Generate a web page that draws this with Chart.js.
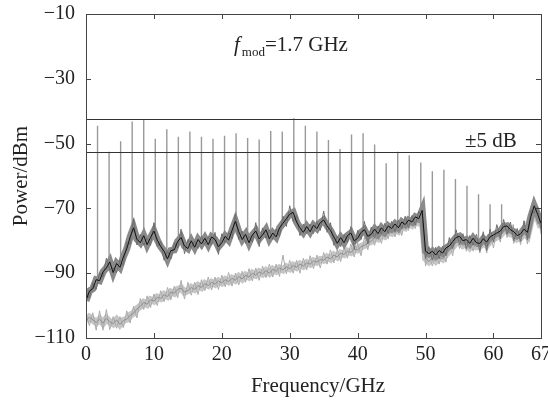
<!DOCTYPE html>
<html><head><meta charset="utf-8">
<script src="https://cdn.jsdelivr.net/npm/chart.js@4.4.1/dist/chart.umd.min.js"></script>
<style>html,body{margin:0;padding:0;background:#fff}#wrap{width:548px;height:401px}</style>
</head><body><div id="wrap"><canvas id="c" width="548" height="401"></canvas></div>
<script>
const freq = [0,0.5,1,1.5,2,2.5,3,3.5,4,4.5,5,5.5,6,6.5,7,7.5,8,8.5,9,9.5,10,10.5,11,11.5,12,12.5,13,13.5,14,14.5,15,15.5,16,16.5,17,17.5,18,18.5,19,19.5,20,20.5,21,21.5,22,22.5,23,23.5,24,24.5,25,25.5,26,26.5,27,27.5,28,28.5,29,29.5,30,30.5,31,31.5,32,32.5,33,33.5,34,34.5,35,35.5,36,36.5,37,37.5,38,38.5,39,39.5,40,40.5,41,41.5,42,42.5,43,43.5,44,44.5,45,45.5,46,46.5,47,47.5,48,48.5,49,49.5,50,50.5,51,51.5,52,52.5,53,53.5,54,54.5,55,55.5,56,56.5,57,57.5,58,58.5,59,59.5,60,60.5,61,61.5,62,62.5,63,63.5,64,64.5,65,65.5,66,66.5,67];
// modulated trace (dark): averaged core and raw noisy trace
const upperTrace = [-98.5,-95.5,-94.8,-92.0,-92.3,-89.6,-88.4,-86.5,-89.8,-87.0,-88.2,-85.0,-82.5,-78.8,-76.0,-79.5,-80.6,-78.4,-81.2,-79.0,-77.0,-79.8,-81.8,-83.2,-85.6,-83.0,-82.8,-80.2,-79.0,-81.6,-82.4,-80.0,-82.0,-79.6,-81.0,-79.2,-81.2,-78.8,-79.6,-81.8,-80.6,-78.6,-79.8,-76.8,-74.0,-77.2,-79.6,-78.0,-80.6,-78.2,-77.0,-79.4,-78.2,-76.6,-79.4,-77.6,-78.8,-76.0,-74.6,-73.2,-71.8,-71.2,-74.2,-76.0,-77.4,-75.6,-77.2,-75.2,-76.2,-74.4,-73.6,-75.4,-76.8,-78.8,-80.8,-79.0,-80.6,-78.4,-77.6,-80.0,-79.2,-77.4,-76.6,-78.6,-78.0,-76.4,-77.8,-76.0,-77.2,-75.4,-76.2,-74.8,-76.0,-74.2,-75.0,-73.6,-74.2,-72.6,-73.2,-70.6,-83.2,-84.0,-83.2,-84.4,-83.0,-83.8,-82.2,-81.6,-80.2,-79.0,-78.6,-80.0,-79.6,-80.8,-79.2,-80.6,-80.8,-79.4,-80.4,-78.8,-78.2,-77.6,-77.0,-75.6,-75.4,-76.6,-77.2,-78.4,-77.8,-76.4,-77.4,-72.6,-69.2,-71.8,-74.6];
const upperNoisy = [-95.9,-97.7,-93.0,-95.0,-89.9,-91.2,-85.4,-88.9,-88.4,-89.8,-86.0,-87.6,-80.5,-81.0,-73.2,-81.3,-78.0,-81.4,-79.2,-81.4,-74.4,-81.8,-80.2,-86.0,-83.2,-85.6,-80.6,-82.2,-76.4,-84.0,-79.6,-82.2,-80.0,-82.4,-78.6,-81.2,-78.6,-81.4,-77.4,-84.2,-77.8,-80.6,-77.4,-79.4,-71.8,-79.6,-77.0,-80.8,-78.6,-80.4,-74.4,-81.8,-76.0,-79.2,-76.6,-79.6,-76.4,-78.6,-72.4,-75.6,-69.2,-74.0,-72.2,-78.4,-74.8,-77.8,-74.8,-77.8,-74.0,-76.8,-70.8,-77.4,-74.4,-81.4,-78.6,-81.8,-78.0,-80.6,-75.6,-82.6,-76.8,-79.6,-74.0,-81.0,-75.8,-79.2,-75.4,-78.0,-74.6,-77.8,-74.0,-77.4,-73.6,-76.4,-72.4,-76.0,-72.2,-75.2,-71.0,-72.2,-85.6,-81.8,-86.0,-82.0,-85.6,-81.6,-84.6,-79.0,-82.4,-76.6,-81.2,-77.8,-82.4,-78.4,-81.4,-78.0,-83.2,-77.2,-83.0,-76.4,-80.4,-75.0,-79.4,-73.4,-78.0,-74.2,-80.0,-76.2,-80.2,-73.8,-79.6,-70.6,-71.4,-69.6,-76.6];
// reference trace (light): averaged core and raw noisy trace
const lowerTrace = [-104.8,-103.6,-104.4,-105.2,-104.2,-105.4,-104.0,-105.0,-105.6,-104.4,-105.8,-104.6,-104.2,-103.0,-102.4,-101.0,-100.2,-99.0,-99.6,-98.2,-98.6,-97.4,-97.8,-96.6,-97.2,-95.8,-96.2,-95.0,-94.6,-95.8,-95.4,-94.4,-95.0,-93.8,-94.4,-93.2,-93.8,-92.8,-93.4,-92.4,-93.0,-92.0,-92.6,-91.6,-92.2,-91.0,-91.8,-90.6,-91.2,-90.0,-90.6,-89.6,-90.2,-89.2,-90.0,-88.8,-89.4,-88.4,-89.0,-88.0,-88.6,-87.6,-88.2,-87.2,-87.8,-86.8,-87.2,-86.2,-86.6,-85.8,-86.0,-85.0,-85.6,-84.4,-85.0,-83.8,-84.2,-83.2,-83.6,-82.6,-82.8,-81.8,-81.4,-80.6,-80.2,-79.0,-79.4,-78.2,-78.6,-77.2,-77.6,-76.4,-77.0,-75.6,-76.0,-74.6,-75.2,-73.8,-74.4,-72.4,-85.4,-86.4,-85.2,-86.2,-85.0,-85.6,-84.2,-83.0,-81.8,-80.6,-80.2,-81.4,-80.8,-82.0,-80.6,-81.8,-81.6,-80.6,-81.4,-80.0,-79.4,-78.8,-78.2,-77.0,-76.6,-77.8,-78.2,-79.4,-79.0,-77.6,-78.6,-74.0,-70.6,-73.0,-75.8];
const lowerNoisy = [-102.4,-106.2,-102.2,-107.6,-101.6,-107.6,-101.2,-107.4,-103.4,-107.0,-103.4,-106.8,-101.6,-105.4,-100.2,-103.8,-97.8,-101.2,-97.0,-100.6,-96.4,-100.0,-95.4,-98.8,-94.4,-98.2,-94.0,-97.6,-92.2,-98.0,-92.8,-96.8,-92.8,-96.6,-92.0,-95.4,-91.2,-95.2,-91.2,-95.0,-90.6,-94.2,-89.8,-94.0,-90.0,-93.6,-89.4,-92.8,-88.6,-92.4,-88.4,-92.2,-87.8,-91.4,-87.2,-91.2,-87.2,-91.0,-84.4,-90.2,-86.0,-90.0,-86.0,-90.0,-85.4,-89.0,-84.6,-88.6,-84.4,-88.4,-83.6,-87.2,-82.8,-86.8,-82.8,-86.4,-81.8,-85.4,-81.0,-85.0,-80.6,-84.6,-79.0,-82.8,-77.6,-81.4,-77.2,-80.8,-76.2,-79.4,-75.0,-78.8,-74.8,-78.4,-73.6,-76.8,-72.6,-76.2,-72.2,-74.4,-87.8,-84.2,-87.8,-83.8,-87.2,-83.0,-86.6,-80.8,-84.6,-78.2,-82.4,-78.8,-83.2,-79.8,-83.2,-79.4,-83.8,-78.0,-83.8,-77.8,-82.2,-76.4,-80.4,-74.4,-79.0,-75.6,-80.8,-77.0,-81.2,-75.0,-81.0,-71.8,-72.8,-70.6,-78.0];
const harmonicFreq = [1.7,3.4,5.1,6.8,8.5,10.2,11.9,13.6,15.3,17,18.7,20.4,22.1,23.8,25.5,27.2,28.9,30.6,32.3,34,35.7,37.4,39.1,40.8,42.5,44.2,45.9,47.6,49.3,51,52.7,54.4,56.1,57.8,59.5,61.2,62.9,64.6,66.3];
const harmonicPeak = [-44.5,-52.5,-49.3,-43.2,-42.4,-48.5,-45.6,-47.9,-46.3,-47.9,-48.5,-47.6,-46.8,-48.3,-48.7,-46.1,-46.3,-42.2,-44.5,-46.3,-48.9,-51.7,-47.2,-46.8,-50.3,-56.1,-52.5,-53.6,-55.8,-58.5,-58.1,-60.9,-63.0,-65.6,-68.7,-68.7,-75.0,-74.0,-69.0];
const refLevels = [-42.4, -52.7];
const xTicks = [0,10,20,30,40,50,60,67];
const yTicks = [-110,-90,-70,-50,-30,-10];

const pts = (ys) => freq.map((f,i)=>({x:f,y:ys[i]}));
const spikePts = [];
harmonicFreq.forEach((f,i)=>{
  const base = upperTrace[Math.round(f*2)];
  spikePts.push({x:f,y:base},{x:f,y:harmonicPeak[i]},{x:f,y:null});
});

const SERIF = '"Liberation Serif","DejaVu Serif",serif';

const decor = {
  id:'decor',
  afterDatasetsDraw(chart){
    const {ctx, chartArea:a, scales:{x,y}} = chart;
    ctx.save();
    ctx.strokeStyle = '#333';
    ctx.lineWidth = 1.2;
    refLevels.forEach(v=>{
      const py = Math.round(y.getPixelForValue(v))+0.5;
      ctx.beginPath(); ctx.moveTo(a.left,py); ctx.lineTo(a.right,py); ctx.stroke();
    });
    ctx.strokeStyle = '#444';
    ctx.lineWidth = 1;
    ctx.strokeRect(Math.round(a.left)+0.5, Math.round(a.top)+0.5, Math.round(a.right-a.left), Math.round(a.bottom-a.top));
    const tl = 5;
    ctx.beginPath();
    xTicks.forEach(v=>{
      const px = Math.round(x.getPixelForValue(v))+0.5;
      ctx.moveTo(px,a.bottom); ctx.lineTo(px,a.bottom-tl);
      ctx.moveTo(px,a.top); ctx.lineTo(px,a.top+tl);
    });
    yTicks.forEach(v=>{
      const py = Math.round(y.getPixelForValue(v))+0.5;
      ctx.moveTo(a.left,py); ctx.lineTo(a.left+tl,py);
      ctx.moveTo(a.right,py); ctx.lineTo(a.right-tl,py);
    });
    ctx.stroke();
    ctx.restore();
  },
  afterDraw(chart){
    const {ctx} = chart;
    ctx.save();
    ctx.fillStyle = '#222';
    ctx.textBaseline = 'alphabetic';
    let xx = 234, by = 51;
    ctx.font = 'italic 21px ' + SERIF;
    ctx.fillText('f', xx, by);
    xx += ctx.measureText('f').width + 2;
    ctx.font = '13px ' + SERIF;
    ctx.fillText('mod', xx, by+5);
    xx += ctx.measureText('mod').width;
    ctx.font = '21px ' + SERIF;
    ctx.fillText('=1.7 GHz', xx, by);
    ctx.fillText('±5 dB', 465, 147);
    ctx.textAlign = 'center';
    ctx.fillText('Frequency/GHz', 318, 392);
    ctx.translate(27, 176);
    ctx.rotate(-Math.PI/2);
    ctx.fillText('Power/dBm', 0, 0);
    ctx.restore();
  }
};

new Chart(document.getElementById('c'), {
  type:'line',
  data:{datasets:[
    {label:'spikes', data:spikePts, borderColor:'#999', borderWidth:1.4, pointRadius:0, spanGaps:false, order:7},
    {label:'lowerBand', data:pts(lowerTrace), borderColor:'#c6c6c6', borderWidth:7, pointRadius:0, order:6},
    {label:'lowerNoisy', data:pts(lowerNoisy), borderColor:'#ababab', borderWidth:1, pointRadius:0, order:5},
    {label:'lowerCore', data:pts(lowerTrace), borderColor:'#8e8e8e', borderWidth:1, pointRadius:0, order:4},
    {label:'upperBand', data:pts(upperTrace), borderColor:'#8a8a8a', borderWidth:7, pointRadius:0, order:3},
    {label:'upperNoisy', data:pts(upperNoisy), borderColor:'#6e6e6e', borderWidth:1, pointRadius:0, order:2},
    {label:'upperCore', data:pts(upperTrace), borderColor:'#111', borderWidth:1, pointRadius:0, order:1}
  ]},
  options:{
    responsive:false, animation:false, devicePixelRatio:1,
    layout:{padding:{top:14,right:7,left:0,bottom:0}},
    plugins:{legend:{display:false},tooltip:{enabled:false}},
    elements:{line:{tension:0}},
    scales:{
      x:{type:'linear', min:0, max:67,
        afterBuildTicks:s=>{s.ticks = xTicks.map(v=>({value:v}));},
        afterFit:s=>{s.height = 63; s.paddingLeft = 0; s.paddingRight = 0;},
        grid:{display:false, drawTicks:false}, border:{display:false},
        ticks:{autoSkip:false, maxRotation:0, padding:5, color:'#222', font:{family:SERIF,size:20}, callback:v=>String(v)}},
      y:{type:'linear', min:-110, max:-10,
        afterBuildTicks:s=>{s.ticks = yTicks.map(v=>({value:v}));},
        afterFit:s=>{s.width = 86; s.paddingTop = 0; s.paddingBottom = 0;},
        grid:{display:false, drawTicks:false}, border:{display:false},
        ticks:{padding:11, color:'#222', font:{family:SERIF,size:20}, callback:v=>'\u2212'+Math.abs(v)}}
    }
  },
  plugins:[decor]
});
</script></body></html>
